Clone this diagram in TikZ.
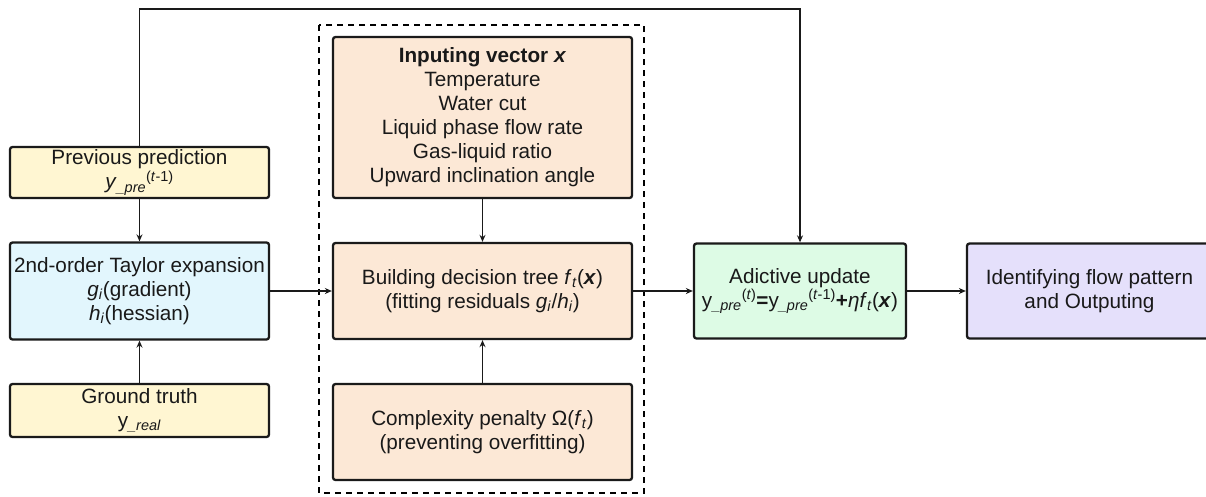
\documentclass[tikz,border=0pt]{standalone}
\usepackage{fontspec}
\setmainfont{Liberation Sans}
\usetikzlibrary{arrows.meta}

\definecolor{cyellow}{HTML}{FFF6D2}
\definecolor{cblue}{HTML}{E2F6FD}
\definecolor{cpeach}{HTML}{FCE8D6}
\definecolor{cgreen}{HTML}{DDFBE5}
\definecolor{cpurple}{HTML}{E5E0FB}
\definecolor{cline}{HTML}{1A1A1A}

\newcommand{\ypre}{\textsubscript{\textit{\_pre}}}

\begin{document}
\begin{tikzpicture}[x=1pt,y=-1pt,
  box/.style={draw=cline, line width=2.3pt, rounded corners=2.5pt, align=center,
    inner sep=2pt, font=\fontsize{20.7}{24}\selectfont, text=black!90},
  arr/.style={draw=cline, line width=1.9pt, -{Stealth[length=7pt,width=6pt]}},
  group/.style={draw=black, line width=1.9pt, dash pattern=on 6pt off 5pt}]

\useasboundingbox (0,0) rectangle (1206,496);
\clip (0,0) rectangle (1206,496);

% surrounding dashed frame of the tree-building stage
\draw[group] (319,25) rectangle (644,493);

% left column
\node[box, fill=cyellow, minimum width=259pt, minimum height=51pt] (prev) at (139.5,172.5)
  {Previous prediction\\\textit{y}\ypre\textsuperscript{(\textit{t}-1)}};
\node[box, fill=cblue, minimum width=259pt, minimum height=97pt] (taylor) at (139.5,291)
  {2nd-order Taylor expansion\\\textit{g}\textsubscript{\textit{i}}(gradient)\\\textit{h}\textsubscript{\textit{i}}(hessian)};
\node[box, fill=cyellow, minimum width=259pt, minimum height=53pt] (truth) at (139.5,410.5)
  {Ground truth\\y\textsubscript{\textit{\_real}}};

% middle column
\node[box, fill=cpeach, minimum width=299pt, minimum height=161pt] (input) at (482.5,117.5)
  {\textbf{Inputing vector \textit{x}}\\Temperature\\Water cut\\Liquid phase flow rate\\Gas-liquid ratio\\Upward inclination angle};
\node[box, fill=cpeach, minimum width=299pt, minimum height=96pt] (build) at (482.5,291)
  {Building decision tree \textit{f}\textsubscript{\textit{t}}(\textbf{\textit{x}})\\(fitting residuals \textit{g}\textsubscript{\textit{i}}/\textit{h}\textsubscript{\textit{i}})};
\node[box, fill=cpeach, minimum width=299pt, minimum height=96pt] (compl) at (482.5,432)
  {Complexity penalty Ω(\textit{f}\textsubscript{\textit{t}})\\(preventing overfitting)};

% right side
\node[box, fill=cgreen, minimum width=212pt, minimum height=95pt] (add) at (800,291)
  {Adictive update\\y\ypre\textsuperscript{(\textit{t})}\textbf{=}y\ypre\textsuperscript{(\textit{t}-1)}\textbf{+}\textit{ηf}\textsubscript{\textit{t}}(\textbf{\textit{x}})};
\node[box, fill=cpurple, minimum width=245pt, minimum height=95pt] (ident) at (1089.5,291)
  {Identifying flow pattern\\and Outputing};

% connectors
\coordinate (loop) at (139.5,9);
\draw[arr] (prev.north) -- (loop) -| (add.north);
\draw[arr] (prev) -- (taylor);
\draw[arr] (truth) -- (taylor);
\draw[arr] (taylor) -- (build);
\draw[arr] (input) -- (build);
\draw[arr] (compl) -- (build);
\draw[arr] (build) -- (add);
\draw[arr] (add) -- (ident);
\end{tikzpicture}
\end{document}
